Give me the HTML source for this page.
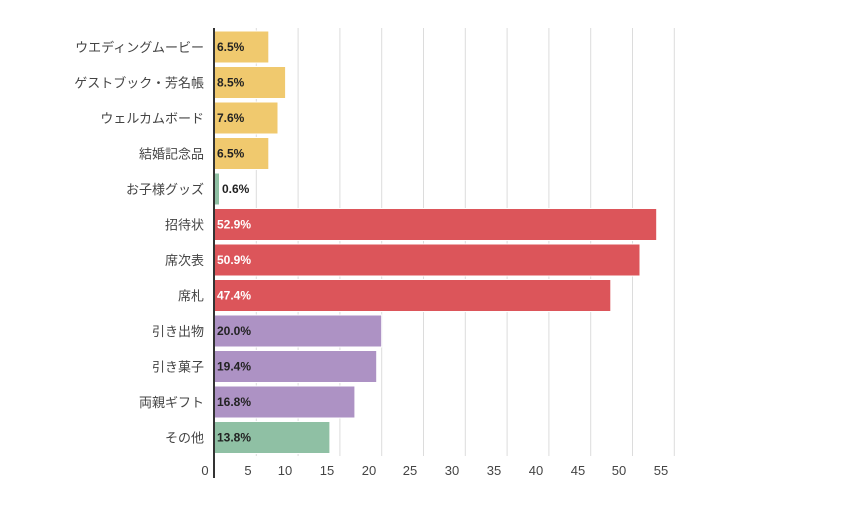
<!DOCTYPE html>
<html><head><meta charset="utf-8"><style>
body{margin:0;background:#fff}
svg{display:block}
text{font-family:"Liberation Sans","Noto Sans CJK JP",sans-serif}
</style></head><body>
<svg width="853" height="527" xmlns="http://www.w3.org/2000/svg">
<g stroke="#dcdcdc" stroke-width="1">
<line x1="256.3" y1="28" x2="256.3" y2="456"/><line x1="298.1" y1="28" x2="298.1" y2="456"/>
<line x1="339.9" y1="28" x2="339.9" y2="456"/><line x1="381.7" y1="28" x2="381.7" y2="456"/>
<line x1="423.5" y1="28" x2="423.5" y2="456"/><line x1="465.3" y1="28" x2="465.3" y2="456"/>
<line x1="507.1" y1="28" x2="507.1" y2="456"/><line x1="548.9" y1="28" x2="548.9" y2="456"/>
<line x1="590.7" y1="28" x2="590.7" y2="456"/><line x1="632.5" y1="28" x2="632.5" y2="456"/>
<line x1="674.3" y1="28" x2="674.3" y2="456"/>
</g>
<g stroke="#fff" stroke-width="1">
<rect x="214.5" y="31" width="54.3" height="32" fill="#F0C96E"/>
<rect x="214.5" y="66.5" width="71.1" height="32" fill="#F0C96E"/>
<rect x="214.5" y="102" width="63.5" height="32" fill="#F0C96E"/>
<rect x="214.5" y="137.5" width="54.3" height="32" fill="#F0C96E"/>
<rect x="214.5" y="173" width="5" height="32" fill="#8FC0A4"/>
<rect x="214.5" y="208.5" width="442.2" height="32" fill="#DC555A"/>
<rect x="214.5" y="244" width="425.5" height="32" fill="#DC555A"/>
<rect x="214.5" y="279.5" width="396.3" height="32" fill="#DC555A"/>
<rect x="214.5" y="315" width="167.2" height="32" fill="#AD92C4"/>
<rect x="214.5" y="350.5" width="162.2" height="32" fill="#AD92C4"/>
<rect x="214.5" y="386" width="140.4" height="32" fill="#AD92C4"/>
<rect x="214.5" y="421.5" width="115.4" height="32" fill="#8FC0A4"/>
</g>
<line x1="214" y1="28" x2="214" y2="478" stroke="#333" stroke-width="2"/>
<g font-size="12" font-weight="bold" fill="#222">
<text x="217" y="51">6.5%</text><text x="217" y="86.5">8.5%</text>
<text x="217" y="122">7.6%</text><text x="217" y="157.5">6.5%</text>
<text x="222" y="193">0.6%</text>
<text x="217" y="228.5" fill="#fff">52.9%</text><text x="217" y="264" fill="#fff">50.9%</text>
<text x="217" y="299.5" fill="#fff">47.4%</text>
<text x="217" y="335">20.0%</text><text x="217" y="370.5">19.4%</text>
<text x="217" y="406">16.8%</text><text x="217" y="441.5">13.8%</text>
</g>
<g font-size="13" fill="#444" text-anchor="end">
<text x="204" y="52">ウエディングムービー</text><text x="204" y="87.5">ゲストブック・芳名帳</text>
<text x="204" y="123">ウェルカムボード</text><text x="204" y="158.5">結婚記念品</text>
<text x="204" y="194">お子様グッズ</text><text x="204" y="229.5">招待状</text>
<text x="204" y="265">席次表</text><text x="204" y="300.5">席札</text>
<text x="204" y="336">引き出物</text><text x="204" y="371.5">引き菓子</text>
<text x="204" y="407">両親ギフト</text><text x="204" y="442.5">その他</text>
</g>
<g font-size="13" fill="#444" text-anchor="middle">
<text x="205" y="475">0</text><text x="248" y="475">5</text><text x="285" y="475">10</text>
<text x="327" y="475">15</text><text x="369" y="475">20</text><text x="410" y="475">25</text>
<text x="452" y="475">30</text><text x="494" y="475">35</text><text x="536" y="475">40</text>
<text x="578" y="475">45</text><text x="619" y="475">50</text><text x="661" y="475">55</text>
</g>
</svg>
</body></html>
